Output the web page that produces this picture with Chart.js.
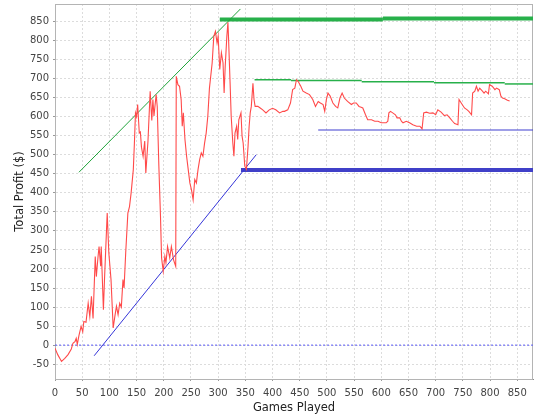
<!DOCTYPE html>
<html>
<head>
<meta charset="utf-8">
<script src="https://cdn.jsdelivr.net/npm/chart.js@4/dist/chart.umd.min.js"></script>
<style>
  html, body { margin: 0; padding: 0; background: #fff; }
  #wrap { width: 540px; height: 420px; }
</style>
</head>
<body>
<div id="wrap"><canvas id="profitChart" width="540" height="420"></canvas></div>
<script>
// games played vs total profit ($)
const gamesPlayed = [
  0, 5, 12, 18, 24, 30, 33, 37, 39, 41, 44, 48, 51, 53, 57, 61, 64, 67, 70, 74,
  76, 79, 81, 84, 85, 89, 91, 96, 99, 103, 107, 110, 113, 116, 119, 122, 125, 127, 130, 134,
  137, 140, 144, 146, 148, 150, 152, 155, 157, 159, 162, 165, 167, 171, 175, 178, 180, 182, 186, 188,
  191, 194, 196, 199, 202, 204, 207, 211, 214, 218, 222, 223, 226, 229, 232, 234, 236, 239, 242, 245,
  248, 251, 254, 257, 260, 263, 266, 269, 272, 275, 278, 281, 284, 289, 292, 295, 298, 300, 303, 306,
  309, 311, 313, 316, 318, 319, 322, 324, 327, 329, 331, 334, 336, 338, 342, 344, 346, 349, 352, 355,
  357, 359, 361, 364, 366, 368, 373, 378, 382, 388, 394, 400, 406, 413, 419, 422, 428, 433, 437, 441,
  444, 447, 452, 456, 462, 468, 474, 479, 484, 488, 493, 496, 499, 502, 506, 511, 516, 520, 524, 528,
  532, 538, 545, 549, 554, 559, 563, 566, 571, 575, 582, 588, 594, 600, 609, 612, 614, 617, 621, 626,
  629, 634, 637, 640, 646, 652, 658, 665, 671, 675, 678, 683, 689, 695, 700, 704, 710, 716, 721, 726,
  731, 735, 741, 743, 747, 753, 758, 761, 766, 768, 772, 775, 778, 781, 786, 789, 792, 797, 799, 804,
  809, 812, 817, 820, 823, 827, 832, 836
];
const totalProfit = [
  -8, -25, -43, -35, -25, -10, 5, 10, 18, 2, 25, 49, 35, 62, 60, 110, 75, 128, 70, 233,
  180, 230, 259, 207, 259, 93, 172, 347, 242, 172, 45, 75, 102, 80, 110, 100, 172, 150, 242, 347,
  364, 400, 461, 530, 610, 600, 632, 557, 560, 520, 496, 536, 452, 536, 667, 590, 645, 602, 658, 627,
  470, 338, 229, 194, 233, 216, 259, 229, 259, 224, 207, 706, 684, 680, 645, 575, 610, 540, 496, 461,
  426, 408, 382, 435, 426, 461, 487, 505, 496, 530, 557, 601, 675, 741, 811, 824, 794, 811, 724, 768,
  741, 662, 732, 811, 848, 811, 688, 601, 531, 496, 557, 575, 540, 592, 610, 549, 531, 470, 462, 522,
  575, 610, 627, 688, 645, 627, 627, 622, 618, 610, 618, 622, 618, 610, 614, 614, 618, 636, 671, 675,
  697, 693, 680, 667, 662, 658, 645, 627, 640, 636, 632, 614, 645, 662, 654, 636, 627, 623, 649, 662,
  649, 640, 632, 636, 636, 627, 625, 623, 605, 592, 592, 588, 588, 584, 584, 588, 610, 614, 610, 605,
  597, 597, 588, 584, 588, 584, 579, 575, 575, 568, 610, 612, 609, 610, 605, 618, 612, 603, 605, 597,
  588, 582, 579, 645, 636, 623, 618, 614, 605, 662, 667, 680, 667, 675, 667, 662, 667, 660, 684, 680,
  671, 675, 671, 654, 649, 647, 643, 641
];

// trend lines (start/end game, start/end profit)
const upperTrendX = [44, 341];
const upperTrendY = [454, 883];
const lowerTrendX = [72, 370];
const lowerTrendY = [-28, 500];

// horizontal levels: [fromGame, toGame, profit]
const peakLevels = [[303, 603, 855], [603, 879, 858]];
const resistLevels = [[367, 434, 697], [434, 564, 695], [564, 697, 692], [697, 827, 689], [827, 879, 686]];
const supportLevel = [[484, 879, 565]];
const floorLevel = [[342, 879, 460]];
const zeroLine = [[0, 879, 0]];

const xTicks = { min: 0, max: 879, step: 50 };
const yTicks = { min: -89, max: 896, step: 50 };

const pts = (xs, ys) => xs.map((x, i) => ({ x: x, y: ys[i] }));

function levelSets(levels, color, width, dash) {
  return levels.map(l => ({
    data: [{ x: l[0], y: l[2] }, { x: l[1], y: l[2] }],
    borderColor: color,
    borderWidth: width,
    borderDash: dash || [],
    pointRadius: 0,
    fill: false
  }));
}

const plotFrame = {
  id: 'plotFrame',
  beforeDatasetsDraw(chart) {
    const a = chart.chartArea;
    const ctx = chart.ctx;
    ctx.save();
    ctx.strokeStyle = '#b4b4b4';
    ctx.lineWidth = 1;
    ctx.strokeRect(a.left + 0.5, a.top + 0.5, a.right - a.left - 1, a.bottom - a.top);
    ctx.restore();
  }
};

const ctx = document.getElementById('profitChart').getContext('2d');

new Chart(ctx, {
  type: 'line',
  data: {
    datasets: [
      {
        data: pts(gamesPlayed, totalProfit),
        borderColor: '#ff4a4a',
        borderWidth: 1.1,
        pointRadius: 0,
        tension: 0,
        fill: false
      },
      {
        data: pts(upperTrendX, upperTrendY),
        borderColor: '#1fa33a',
        borderWidth: 1,
        pointRadius: 0,
        fill: false
      },
      {
        data: pts(lowerTrendX, lowerTrendY),
        borderColor: '#3434d8',
        borderWidth: 1,
        pointRadius: 0,
        fill: false
      },
      ...levelSets(peakLevels, '#27b04a', 4),
      ...levelSets(resistLevels, '#27b04a', 1.5),
      ...levelSets(supportLevel, '#3f3fd0', 1.2),
      ...levelSets(floorLevel, '#4040c8', 4),
      ...levelSets(zeroLine, '#5a5af5', 1, [2, 2])
    ]
  },
  options: {
    responsive: false,
    animation: false,
    layout: { padding: { left: 0, right: 7, top: 4, bottom: 0 } },
    plugins: {
      legend: { display: false },
      tooltip: { enabled: false }
    },
    scales: {
      x: {
        type: 'linear',
        min: xTicks.min,
        max: xTicks.max,
        afterFit(scale) {
          scale.height = 41;
          scale.paddingRight = 0;
          scale.paddingLeft = 0;
        },
        ticks: {
          stepSize: xTicks.step,
          includeBounds: false,
          maxRotation: 0,
          autoSkip: false,
          padding: 6,
          color: '#444',
          font: { family: 'DejaVu Sans', size: 10 }
        },
        grid: {
          color: '#dcdcdc',
          tickColor: '#999',
          tickLength: 2
        },
        border: { color: '#888', dash: [2, 2] },
        title: {
          display: true,
          text: 'Games Played',
          color: '#222',
          padding: { top: 2, bottom: 5 },
          font: { family: 'DejaVu Sans', size: 11.5 }
        }
      },
      y: {
        min: yTicks.min,
        max: yTicks.max,
        afterFit(scale) {
          scale.width = 55;
          scale.paddingTop = 0;
          scale.paddingBottom = 0;
        },
        ticks: {
          stepSize: yTicks.step,
          includeBounds: false,
          padding: 4,
          color: '#444',
          font: { family: 'DejaVu Sans', size: 10 }
        },
        grid: {
          color: '#dcdcdc',
          tickColor: '#999',
          tickLength: 2
        },
        border: { color: '#888', dash: [2, 2] },
        title: {
          display: true,
          text: 'Total Profit ($)',
          color: '#222',
          padding: { top: 13, bottom: 2 },
          font: { family: 'DejaVu Sans', size: 11.5 }
        }
      }
    }
  },
  plugins: [plotFrame]
});
</script>
</body>
</html>
